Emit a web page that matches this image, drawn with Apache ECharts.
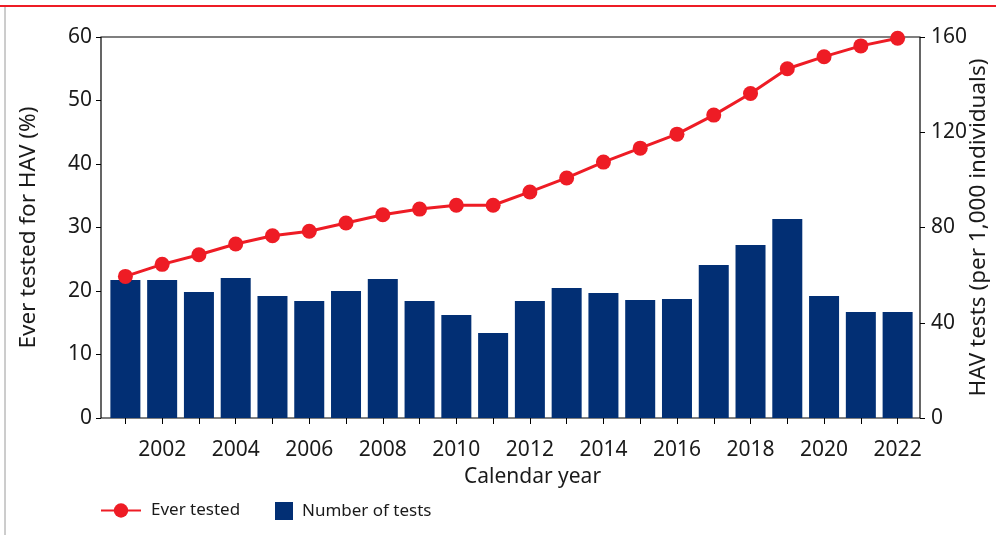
<!DOCTYPE html>
<html>
<head>
<meta charset="utf-8">
<script src="https://cdn.jsdelivr.net/npm/echarts@6/dist/echarts.min.js"></script>
<style>
  html, body { margin: 0; padding: 0; background: #fff; }
  #chart { width: 996px; height: 535px; }
</style>
</head>
<body>
<div id="chart"></div>
<script>
// data
const years = ['2001', '2002', '2003', '2004', '2005', '2006', '2007', '2008', '2009', '2010', '2011',
  '2012', '2013', '2014', '2015', '2016', '2017', '2018', '2019', '2020', '2021', '2022']
const everTested = [22.3, 24.2, 25.7, 27.4, 28.7, 29.4, 30.7, 32.0, 32.9, 33.5, 33.5,
  35.6, 37.8, 40.3, 42.5, 44.7, 47.7, 51.1, 55.0, 56.9, 58.6, 59.8]
const numTests = [58.0, 58.0, 52.9, 58.8, 51.2, 49.1, 53.3, 58.4, 49.1, 43.3, 35.7,
  49.1, 54.6, 52.5, 49.6, 50.0, 64.3, 72.7, 83.6, 51.2, 44.5, 44.5]

const RED = '#ee1c25'
const NAVY = '#022f74'
const INK = '#1a1a1a'
const FONT = 'Noto Sans'

const chart = echarts.init(document.getElementById('chart'))

const option = {
  animation: false,
  textStyle: { fontFamily: FONT, color: INK },
  graphic: [
    // page frame: red rule on top, grey rule on the left
    { type: 'line', shape: { x1: 0, y1: 6, x2: 996, y2: 6 }, style: { stroke: RED, lineWidth: 2 } },
    { type: 'line', shape: { x1: 5, y1: 7, x2: 5, y2: 535 }, style: { stroke: '#9a9a9a', lineWidth: 1 } }
  ],
  grid: [
    // box with the two y scales
    { left: 101, right: 76, top: 37, bottom: 117, outerBoundsMode: 'none', containLabel: false,
      show: true, borderColor: '#000', borderWidth: 1.2, backgroundColor: 'transparent' },
    // plotting area for the categories
    { left: 107, right: 80, top: 37, bottom: 117, outerBoundsMode: 'none', containLabel: false }
  ],
  legend: [
    {
      data: ['Ever tested'],
      left: 100, top: 502, padding: 0,
      itemWidth: 40, itemHeight: 18,
      textStyle: { fontFamily: FONT, fontSize: 17, color: INK, padding: [0, 0, 0, 5] }
    },
    {
      data: [{ name: 'Number of tests', icon: 'rect' }],
      left: 275, top: 502, padding: 0,
      itemWidth: 18, itemHeight: 18,
      textStyle: { fontFamily: FONT, fontSize: 17, color: INK, padding: [0, 0, 0, 4] }
    }
  ],
  xAxis: [
    { gridIndex: 0, type: 'value', show: false, min: 0, max: 1 },
    {
      gridIndex: 1,
      type: 'category',
      data: years,
      boundaryGap: true,
      name: 'Calendar year',
      nameLocation: 'middle',
      nameGap: 49,
      nameMoveOverlap: false,
      nameTextStyle: { fontFamily: FONT, fontSize: 21, color: INK, padding: [0, 0, 0, 42] },
      axisLine: { show: false },
      axisTick: { show: true, alignWithLabel: true, length: 6, interval: 0, lineStyle: { color: '#000' } },
      axisLabel: {
        interval: (idx) => idx % 2 === 1,
        fontFamily: FONT, fontSize: 21, color: INK, margin: 22
      },
      splitLine: { show: false }
    }
  ],
  yAxis: [
    {
      gridIndex: 0,
      type: 'value',
      position: 'left',
      min: 0, max: 60, interval: 10,
      name: 'Ever tested for HAV (%)',
      nameLocation: 'middle',
      nameRotate: 90,
      nameGap: 61,
      nameMoveOverlap: false,
      nameTextStyle: { fontFamily: FONT, fontSize: 22.5, color: INK },
      axisLine: { show: false },
      axisTick: { show: true, inside: false, length: 5, lineStyle: { color: '#000' } },
      axisLabel: { fontFamily: FONT, fontSize: 21, color: INK, margin: 9 },
      splitLine: { show: false }
    },
    {
      gridIndex: 0,
      type: 'value',
      position: 'right',
      min: 0, max: 160, interval: 40,
      name: 'HAV tests (per 1,000 individuals)',
      nameLocation: 'middle',
      nameRotate: 90,
      nameGap: 47,
      nameMoveOverlap: false,
      nameTextStyle: { fontFamily: FONT, fontSize: 22.5, color: INK },
      axisLine: { show: false },
      axisTick: { show: true, inside: false, length: 5, lineStyle: { color: '#000' } },
      axisLabel: { fontFamily: FONT, fontSize: 21, color: INK, margin: 11 },
      splitLine: { show: false }
    },
    // hidden scales on the plotting grid, same ranges as above
    { gridIndex: 1, type: 'value', show: false, min: 0, max: 60 },
    { gridIndex: 1, type: 'value', show: false, min: 0, max: 160 }
  ],
  series: [
    {
      name: 'Number of tests',
      type: 'bar',
      xAxisIndex: 1,
      yAxisIndex: 3,
      data: numTests,
      barWidth: 30,
      itemStyle: { color: NAVY },
      z: 2
    },
    {
      name: 'Ever tested',
      type: 'line',
      xAxisIndex: 1,
      yAxisIndex: 2,
      data: everTested,
      symbol: 'circle',
      symbolSize: 15,
      lineStyle: { color: RED, width: 3 },
      itemStyle: { color: RED },
      z: 3
    }
  ]
}

chart.setOption(option)
</script>
</body>
</html>
